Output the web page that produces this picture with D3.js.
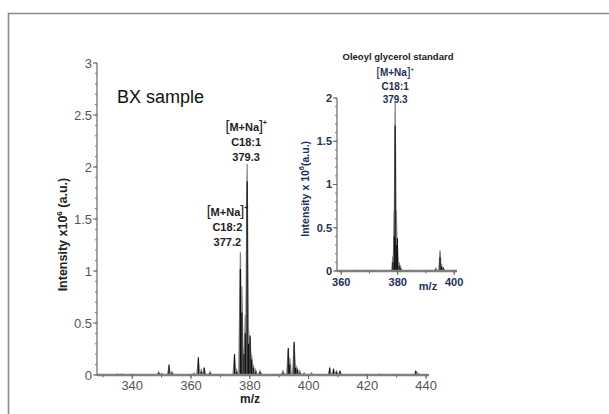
<!DOCTYPE html>
<html><head><meta charset="utf-8">
<script src="https://cdn.jsdelivr.net/npm/d3@7"></script>
<style>body{margin:0;background:#fff}svg{display:block}text{font-family:Arial,"Liberation Sans",sans-serif}</style>
</head><body><svg id="c" width="609" height="414"></svg>
<script>
// ---- data ----
const mainXTicks = [340, 360, 380, 400, 420, 440];
const mainYTicks = [0, 0.5, 1, 1.5, 2, 2.5, 3];
const mainMz    = [335,336.5,349,350,352.5,353.5,361,362.5,363.5,364.5,366.5,374.8,375.5,376.8,377.3,378,378.5,379.1,379.6,380.1,380.6,381.2,382,383.5,391.3,393.1,393.6,395.1,395.6,396.2,397,398.5,401,407.2,408.5,409.5,410.7,424,436.5,437.2];
const mainGray  = [0.01,0.01,0.03,0.015,0.08,0.03,0.02,0.15,0.05,0.06,0.03,0.18,0.05,1.18,0.85,0.25,0.58,2.03,0.44,0.36,0.2,0.1,0.05,0.04,0.04,0.24,0.16,0.3,0.1,0.06,0.04,0.02,0.02,0.06,0.05,0.04,0.035,0.01,0.035,0.02];
const mainBlack = [0.005,0.005,0.02,0.01,0.1,0.02,0.01,0.17,0.03,0.07,0.02,0.2,0.03,1.02,0.6,0.2,0.4,1.86,0.3,0.38,0.15,0.07,0.03,0.03,0.02,0.26,0.1,0.32,0.07,0.05,0.02,0.01,0.01,0.07,0.06,0.03,0.04,0.005,0.04,0.01];
const annoMain = [
  {mz:379.1, lines:["C18:1","379.3"]},
  {mz:376.8, lines:["C18:2","377.2"]}
];
const insetXTicks = [360, 380, 400];
const insetYTicks = [0, 0.5, 1, 1.5, 2];
const insetMz    = [365,369,378.3,378.8,379.1,379.5,379.9,380.5,381,384,393.5,395,395.5,396.2];
const insetGray  = [0.01,0.01,0.17,0.7,1.95,0.7,0.3,0.1,0.05,0.01,0.03,0.24,0.08,0.03];
const insetBlack = [0.005,0.005,0.1,0.4,1.68,0.3,0.38,0.06,0.03,0.005,0.02,0.16,0.05,0.04];

const svg = d3.select("#c");
// frame
svg.append("path").attr("d","M8.5,414V13.5H609").attr("fill","none").attr("stroke","#8a8a8a").attr("stroke-width",1.6);

function spectrum(g, x, y, mz, gray, black, hw) {
  const tri = d3.line().x(d=>x(d[0])).y(d=>y(d[1]));
  mz.forEach((m,i)=>{
    g.append("path").attr("d", tri([[m-hw,0],[m,gray[i]],[m+hw,0]]))
      .attr("fill","#8c8c8c").attr("stroke","#808080").attr("stroke-width",1.2);
  });
  mz.forEach((m,i)=>{
    g.append("line").attr("x1",x(m)).attr("x2",x(m)).attr("y1",y(0)).attr("y2",y(black[i]))
      .attr("stroke","#111").attr("stroke-width",1.2);
  });
}

function axes(g, x, y, xt, yt, opt) {
  g.append("line").attr("x1",x.range()[0]).attr("x2",x.range()[1]).attr("y1",y(0)).attr("y2",y(0))
    .attr("stroke","#808080").attr("stroke-width",2.5);
  g.append("line").attr("x1",x.range()[0]).attr("x2",x.range()[0]).attr("y1",y(0)).attr("y2",y.range()[1])
    .attr("stroke","#666").attr("stroke-width",1.2);
  const yMinor = d3.range(y.domain()[0], y.domain()[1]+1e-9, 0.1);
  yMinor.forEach(v=>g.append("line").attr("x1",x.range()[0]-2).attr("x2",x.range()[0]).attr("y1",y(v)).attr("y2",y(v)).attr("stroke","#777").attr("stroke-width",1));
  yt.forEach(v=>{
    g.append("line").attr("x1",x.range()[0]-4).attr("x2",x.range()[0]).attr("y1",y(v)).attr("y2",y(v)).attr("stroke","#666");
    g.append("text").attr("x",x.range()[0]-5).attr("y",y(v)).attr("dy","0.35em").attr("text-anchor","end")
      .attr("font-size",opt.fs).attr("fill",opt.col).attr("font-weight",opt.fw).text(v);
  });
  const xMinor = d3.range(Math.ceil(x.domain()[0]/opt.xm)*opt.xm, x.domain()[1]+1e-9, opt.xm);
  xMinor.forEach(v=>g.append("line").attr("x1",x(v)).attr("x2",x(v)).attr("y1",y(0)).attr("y2",y(0)+2.5).attr("stroke","#666"));
  xt.forEach(v=>{
    g.append("line").attr("x1",x(v)).attr("x2",x(v)).attr("y1",y(0)).attr("y2",y(0)+4).attr("stroke","#666");
    g.append("text").attr("x",x(v)).attr("y",y(0)+opt.xly).attr("text-anchor","middle")
      .attr("font-size",opt.fs).attr("fill",opt.col).attr("font-weight",opt.fw).text(v);
  });
}

function label(g, cx, yTop, lines, fs, col) {
  const t = g.append("text").attr("x",cx).attr("y",yTop).attr("text-anchor","middle")
    .attr("font-size",fs).attr("font-weight","bold").attr("fill",col);
  t.append("tspan").attr("font-size",fs*1.3).attr("font-weight","normal").text("[");
  t.append("tspan").text("M+Na");
  t.append("tspan").attr("font-size",fs*1.3).attr("font-weight","normal").text("]");
  t.append("tspan").attr("dy",-fs*0.55).attr("font-size",fs*0.6).text("+");
  lines.forEach((l,i)=>{
    g.append("text").attr("x",cx).attr("y",yTop+(i+1)*fs*1.35).attr("text-anchor","middle")
      .attr("font-size",fs).attr("font-weight","bold").attr("fill",col).text(l);
  });
}

// ---- main ----
const xM = d3.scaleLinear().domain([328, 441]).range([97, 429]);
const yM = d3.scaleLinear().domain([0, 3]).range([375, 63]);
const gM = svg.append("g");
spectrum(gM, xM, yM, mainMz, mainGray, mainBlack, 0.55);
axes(gM, xM, yM, mainXTicks, mainYTicks, {fs:13, col:"#555", fw:"normal", xm:10, xly:15});
gM.append("text").attr("x",250).attr("y",403).attr("text-anchor","middle").attr("font-size",12).attr("font-weight","bold").attr("fill","#222").text("m/z");
gM.append("text").attr("transform","translate(67,"+yM(1.35)+") rotate(-90)").attr("text-anchor","middle")
  .attr("font-size",12.5).attr("font-weight","bold").attr("fill","#222")
  .call(t=>{t.append("tspan").text("Intensity x10");t.append("tspan").attr("dy",-5).attr("font-size",8).text("6");t.append("tspan").attr("dy",5).text(" (a.u.)");});
gM.append("text").attr("x",117).attr("y",103).attr("font-size",18).attr("fill","#111").text("BX sample");
label(gM, xM(annoMain[0].mz)-1, 131, annoMain[0].lines, 11, "#222");
label(gM, xM(annoMain[1].mz)-13, 216, annoMain[1].lines, 11, "#222");

// ---- inset ----
const xI = d3.scaleLinear().domain([358.5, 401]).range([337, 457]);
const yI = d3.scaleLinear().domain([0, 2]).range([271, 98]);
const gI = svg.append("g");
spectrum(gI, xI, yI, insetMz, insetGray, insetBlack, 0.45);
axes(gI, xI, yI, insetXTicks, insetYTicks, {fs:11, col:"#23305a", fw:"bold", xm:10, xly:15});
gI.append("text").attr("x",428).attr("y",290).attr("text-anchor","middle").attr("font-size",11).attr("font-weight","bold").attr("fill","#23305a").text("m/z");
gI.append("text").attr("transform","translate(309,"+yI(0.95)+") rotate(-90)").attr("text-anchor","middle")
  .attr("font-size",10.5).attr("font-weight","bold").attr("fill","#23305a")
  .call(t=>{t.append("tspan").text("Intensity x 10");t.append("tspan").attr("dy",-5).attr("font-size",7.5).text("6");t.append("tspan").attr("dy",5).text("(a.u.)");});
gI.append("text").attr("x",398).attr("y",60).attr("text-anchor","middle").attr("font-size",9.5).attr("font-weight","bold").attr("fill","#222").text("Oleoyl glycerol standard");
label(gI, xI(379.1), 76, ["C18:1","379.3"], 10, "#23305a");
</script></body></html>
